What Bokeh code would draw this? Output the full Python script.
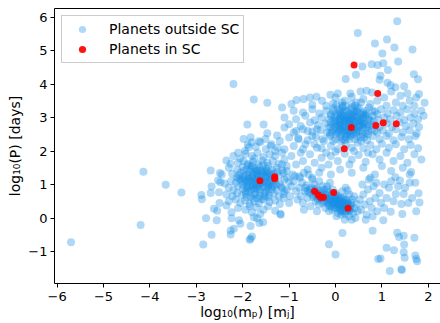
from bokeh.plotting import figure
from bokeh.models import Range1d, FixedTicker, Legend, LegendItem, LinearAxis
from bokeh.embed import file_html
from bokeh.resources import INLINE

# ---------------- data (log10 mass [M_J], log10 period [days]) ----------------
far_left = [(-5.7, -0.72), (-4.2, -0.21), (-4.14, 1.38), (-3.66, 0.99), (-3.32, 0.76),
            (-2.69, 1.42), (-2.49, 1.34), (-2.89, 0.69), (-2.88, 0.56), (-2.69, 0.75),
            (-2.67, 0.94), (-2.48, 1.07), (-2.79, -0.01), (-2.56, -0.07), (-2.85, -0.79),
            (-2.67, -0.5), (-2.62, 0.28), (-2.55, 0.22), (-2.5, 0.45), (-2.51, 0.77),
            (-2.53, 1.12), (-2.39, 1.03)]

left_cluster = [
    (-1.87, 2.11), (-1.81, 2.26), (-1.72, 2.13), (-1.62, 2.26), (-1.5, 2.05), (-1.38, 2.2),
    (-1.25, 2.1), (-1.95, 2.0), (-2.1, 1.95),
    (-2.05, 1.77), (-1.94, 1.92), (-1.8, 1.85), (-1.68, 1.95), (-1.55, 1.82), (-1.42, 1.9),
    (-1.3, 1.85), (-1.15, 1.95), (-2.2, 1.85), (-1.75, 1.78),
    (-2.26, 1.62), (-2.1, 1.65), (-1.98, 1.7), (-1.88, 1.62), (-1.78, 1.68), (-1.66, 1.6),
    (-1.58, 1.72), (-1.47, 1.65), (-1.35, 1.7), (-1.22, 1.62), (-1.1, 1.75), (-2.35, 1.72),
    (-2.12, 1.44), (-2.0, 1.52), (-1.92, 1.45), (-1.83, 1.55), (-1.74, 1.47), (-1.64, 1.52),
    (-1.55, 1.42), (-1.45, 1.55), (-1.37, 1.45), (-1.27, 1.5), (-1.15, 1.42), (-1.05, 1.55),
    (-2.3, 1.5), (-1.7, 1.4), (-1.9, 1.58), (-1.5, 1.48),
    (-2.23, 1.32), (-2.13, 1.22), (-2.05, 1.35), (-1.96, 1.27), (-1.86, 1.38), (-1.8, 1.25),
    (-1.7, 1.33), (-1.6, 1.27), (-1.52, 1.36), (-1.42, 1.25), (-1.33, 1.32), (-1.22, 1.27),
    (-1.12, 1.35), (-2.45, 1.3), (-1.88, 1.2), (-1.65, 1.22), (-1.47, 1.3), (-1.75, 1.38),
    (-2.0, 1.2), (-1.25, 1.38),
    (-2.25, 1.1), (-2.15, 1.05), (-2.05, 1.15), (-1.95, 1.08), (-1.85, 1.12), (-1.75, 1.02),
    (-1.68, 1.15), (-1.58, 1.05), (-1.5, 1.18), (-1.4, 1.07), (-1.3, 1.12), (-1.2, 1.03),
    (-1.1, 1.15), (-1.0, 1.08), (-1.9, 1.0), (-1.62, 1.0), (-1.45, 1.0), (-1.78, 1.18),
    (-2.1, 1.18), (-1.35, 1.02),
    (-2.3, 0.9), (-2.2, 0.83), (-2.1, 0.95), (-2.0, 0.87), (-1.92, 0.93), (-1.82, 0.84),
    (-1.72, 0.92), (-1.63, 0.85), (-1.55, 0.95), (-1.45, 0.86), (-1.37, 0.94), (-1.27, 0.83),
    (-1.15, 0.9), (-1.05, 0.85), (-1.78, 0.98), (-1.5, 0.8), (-1.95, 0.8),
    (-2.35, 0.7), (-2.22, 0.65), (-2.12, 0.75), (-2.02, 0.68), (-1.93, 0.73), (-1.83, 0.64),
    (-1.73, 0.72), (-1.63, 0.66), (-1.53, 0.75), (-1.43, 0.68), (-1.33, 0.74), (-1.22, 0.64),
    (-1.12, 0.72), (-1.88, 0.78), (-1.68, 0.6), (-1.45, 0.62),
    (-2.3, 0.5), (-2.15, 0.55), (-2.05, 0.45), (-1.95, 0.52), (-1.85, 0.42), (-1.75, 0.5),
    (-1.65, 0.44), (-1.55, 0.55), (-1.42, 0.48), (-1.3, 0.52), (-1.2, 0.42), (-1.78, 0.58),
    (-1.6, 0.56),
    (-2.35, 0.37), (-2.24, 0.17), (-1.94, 0.25), (-1.8, 0.17), (-2.1, 0.3), (-1.7, 0.32),
    (-1.55, 0.25), (-1.45, 0.35), (-1.3, 0.22), (-1.19, 0.13), (-1.85, 0.35), (-1.62, 0.12),
    (-2.24, -0.01), (-2.08, -0.07), (-2.05, -0.17), (-1.83, -0.24), (-1.64, -0.15),
    (-1.56, -0.13), (-1.69, -0.01), (-1.76, 0.02), (-2.26, -0.37), (-2.19, -0.32),
    (-1.83, -0.62), (-1.8, -0.55), (-2.26, -0.49), (-1.85, -0.65), (-1.18, 0.1)]

left_core = [(-1.9, 1.3), (-1.8, 1.1), (-1.7, 1.25), (-1.6, 1.15), (-1.5, 1.25), (-1.4, 1.15),
             (-1.85, 0.95), (-1.75, 0.85), (-1.65, 0.95), (-1.55, 1.1), (-1.45, 0.95),
             (-1.35, 1.2), (-1.95, 1.15), (-1.72, 1.08), (-1.58, 1.35), (-1.82, 1.45),
             (-1.68, 1.42), (-1.48, 1.4), (-2.0, 1.0), (-1.62, 0.78), (-1.38, 0.85),
             (-1.92, 0.62), (-1.76, 0.7), (-1.52, 0.65), (-1.28, 1.0), (-1.88, 1.08),
             (-1.66, 1.3), (-1.42, 1.35), (-1.8, 1.55), (-1.56, 1.58), (-2.08, 1.28),
             (-1.98, 1.4), (-1.7, 1.0), (-1.5, 1.05), (-1.33, 0.95), (-1.78, 0.9),
             (-1.85, 1.2), (-1.72, 1.15), (-1.62, 1.05), (-1.52, 1.2), (-1.45, 1.1),
             (-1.78, 1.32), (-1.6, 1.4), (-1.9, 0.88), (-1.68, 0.88), (-1.48, 0.9),
             (-2.02, 1.1), (-1.38, 1.3)]

upper_left = [(-2.2, 4.0), (-1.76, 3.54), (-1.47, 3.44), (-1.9, 2.79), (-1.55, 2.79),
              (-1.98, 2.36), (-1.83, 2.41), (-1.89, 2.19), (-1.65, 2.29), (-1.51, 2.36),
              (-1.47, 2.53), (-1.26, 2.46), (-1.4, 2.16)]

bridge = [(-1.2, 2.3), (-1.1, 2.05), (-1.0, 2.4), (-0.95, 1.85), (-0.9, 2.15), (-0.85, 1.6),
          (-0.8, 2.35), (-0.75, 1.95), (-0.7, 1.7), (-0.65, 2.2), (-0.6, 1.45), (-0.55, 1.9),
          (-0.5, 2.45), (-0.45, 1.65), (-0.4, 2.1), (-0.35, 1.35), (-0.3, 1.8), (-0.25, 2.3),
          (-1.05, 1.4), (-0.92, 1.3), (-0.78, 1.25), (-1.15, 1.6), (-0.68, 1.35), (-0.5, 1.2),
          (-0.3, 1.5), (-0.2, 1.95), (-0.15, 1.6), (-1.3, 2.0), (-0.6, 2.6), (-0.85, 2.6),
          (-1.1, 2.7), (-0.4, 2.65)]

top_sparse = [(1.33, 5.87), (0.48, 5.52), (0.85, 5.21), (1.11, 5.33), (1.27, 5.09),
              (1.66, 5.03), (1.01, 4.91), (1.35, 4.67), (0.58, 4.52), (0.78, 4.59),
              (0.91, 4.57), (1.03, 4.62), (1.13, 4.42), (0.44, 4.28), (0.22, 4.15),
              (0.97, 4.25), (0.95, 4.13), (1.69, 4.29), (1.78, 4.14), (1.12, 4.04),
              (1.19, 3.96), (1.29, 3.9), (1.48, 3.93)]

upper_band = [(-0.84, 3.52), (-0.69, 3.55), (-0.55, 3.6), (-0.41, 3.62), (-0.29, 3.5),
              (-0.11, 3.68), (0.05, 3.72), (0.32, 3.72), (0.54, 3.78), (0.67, 3.8),
              (0.79, 3.75), (1.8, 3.7), (1.92, 3.44), (1.74, 3.6), (1.55, 3.72), (1.4, 3.65),
              (1.2, 3.78), (1.05, 3.6), (0.6, 3.55), (0.45, 3.45), (0.2, 3.5), (-0.05, 3.42),
              (-0.5, 3.38), (-0.95, 3.4), (-1.15, 3.3), (1.6, 3.5), (1.3, 3.45), (0.9, 3.5),
              (0.0, 3.6), (0.15, 3.35), (0.35, 3.62), (-0.2, 3.35), (0.75, 3.4), (1.1, 3.35),
              (1.45, 3.35), (1.7, 3.35)]

upper_cluster = [
    (-0.9, 3.2), (-0.7, 3.15), (-0.5, 3.25), (-0.35, 3.12), (-0.2, 3.2), (-0.05, 3.28),
    (0.1, 3.15), (0.22, 3.22), (0.35, 3.1), (0.48, 3.25), (0.6, 3.15), (0.72, 3.3),
    (0.85, 3.18), (0.98, 3.25), (1.12, 3.12), (1.25, 3.22), (1.4, 3.15), (1.55, 3.25),
    (1.7, 3.12), (1.85, 3.2), (0.15, 3.3), (0.4, 3.18), (0.65, 3.05), (-0.1, 3.1),
    (-1.1, 3.0), (-0.85, 2.95), (-0.65, 3.05), (-0.45, 2.92), (-0.3, 3.0), (-0.15, 2.95),
    (-0.02, 3.05), (0.08, 2.92), (0.18, 3.0), (0.28, 2.95), (0.38, 3.05), (0.5, 2.92),
    (0.6, 3.0), (0.7, 2.95), (0.8, 3.05), (0.92, 2.93), (1.05, 3.0), (1.18, 2.95),
    (1.32, 3.05), (1.48, 2.93), (1.62, 3.0), (1.78, 2.95), (1.9, 3.05), (0.12, 3.08),
    (0.32, 2.9), (0.45, 3.02), (0.02, 2.9), (0.55, 3.08),
    (-1.0, 2.8), (-0.75, 2.75), (-0.55, 2.85), (-0.38, 2.78), (-0.22, 2.82), (-0.1, 2.72),
    (0.0, 2.85), (0.1, 2.78), (0.2, 2.82), (0.3, 2.75), (0.42, 2.85), (0.52, 2.72),
    (0.62, 2.82), (0.72, 2.75), (0.82, 2.88), (0.95, 2.72), (1.1, 2.82), (1.22, 2.72),
    (1.38, 2.85), (1.52, 2.75), (1.68, 2.82), (1.8, 2.72), (0.15, 2.7), (0.38, 2.88),
    (0.25, 2.9), (-0.05, 2.8), (0.58, 2.78), (0.05, 2.75),
    (-0.9, 2.55), (-0.7, 2.65), (-0.5, 2.58), (-0.32, 2.62), (-0.18, 2.55), (-0.05, 2.65),
    (0.05, 2.55), (0.15, 2.62), (0.25, 2.52), (0.35, 2.65), (0.45, 2.55), (0.55, 2.62),
    (0.65, 2.52), (0.78, 2.65), (0.9, 2.55), (1.02, 2.62), (1.15, 2.52), (1.3, 2.65),
    (1.45, 2.55), (1.6, 2.62), (1.75, 2.52), (0.1, 2.68), (0.3, 2.58), (0.0, 2.6),
    (0.4, 2.5), (-0.12, 2.5),
    (-0.8, 2.38), (-0.6, 2.32), (-0.42, 2.42), (-0.28, 2.35), (-0.12, 2.45), (0.0, 2.35),
    (0.1, 2.42), (0.2, 2.32), (0.32, 2.45), (0.42, 2.35), (0.55, 2.42), (0.68, 2.32),
    (0.8, 2.45), (0.95, 2.35), (1.1, 2.45), (1.25, 2.32), (1.42, 2.42), (1.58, 2.35),
    (1.72, 2.45), (0.25, 2.4), (-0.05, 2.3),
    (-0.7, 2.05), (-0.45, 2.2), (-0.3, 2.08), (-0.1, 2.15), (0.05, 2.05), (0.22, 2.2),
    (0.35, 2.1), (0.48, 2.25), (0.6, 2.08), (0.75, 2.18), (0.88, 2.05), (1.0, 2.22),
    (1.15, 2.1), (1.3, 2.2), (1.48, 2.05), (1.62, 2.18), (1.78, 2.08), (0.12, 2.28),
    (0.4, 2.0),
    (-0.1, 1.85), (0.05, 1.7), (0.2, 1.92), (0.35, 1.75), (0.5, 1.88), (0.65, 1.68),
    (0.8, 1.9), (0.95, 1.75), (1.1, 1.95), (1.25, 1.7), (1.4, 1.85), (1.55, 1.65),
    (1.7, 1.9), (1.85, 1.75), (0.0, 1.98), (0.3, 1.6), (0.7, 1.95),
    (0.1, 1.45), (0.35, 1.35), (0.6, 1.5), (0.85, 1.3), (1.0, 1.55), (1.2, 1.4),
    (1.45, 1.5), (1.6, 1.3), (1.29, 1.22), (1.39, 1.12), (1.63, 1.37), (-0.1, 1.3),
    (0.75, 1.2)]

upper_core = [(0.0, 3.0), (0.1, 3.2), (0.2, 2.9), (0.3, 3.1), (0.4, 2.8), (0.5, 3.0),
              (0.6, 2.7), (0.2, 2.6), (0.3, 2.5), (0.1, 2.85), (0.35, 2.95), (0.45, 2.65),
              (0.25, 3.05), (0.15, 2.75), (0.05, 3.1), (-0.05, 2.9), (0.55, 2.85), (0.65, 3.1),
              (0.7, 2.6), (0.28, 2.7), (0.38, 2.55), (0.18, 3.15), (0.48, 3.15), (0.08, 2.62),
              (-0.1, 3.05), (0.33, 3.25), (0.22, 2.45), (0.12, 2.5), (0.58, 2.5), (0.42, 3.35),
              (0.02, 3.38), (-0.15, 2.7), (0.75, 2.9), (0.85, 2.6), (0.3, 2.85), (0.24, 2.98),
              (0.4, 2.72), (0.16, 2.95), (0.52, 2.78), (0.36, 3.02),
              (0.05, 3.25), (0.2, 3.35), (0.35, 3.4), (0.5, 3.3), (0.65, 3.2), (0.12, 2.95),
              (0.28, 2.8), (0.44, 2.9), (0.6, 2.85), (0.72, 3.0), (0.0, 2.7), (0.18, 2.55),
              (0.34, 2.6), (0.5, 2.6), (0.62, 2.4), (-0.08, 2.55), (0.26, 3.18), (0.42, 3.1),
              (0.56, 2.95), (0.8, 2.78), (0.9, 3.1), (0.1, 3.0), (0.36, 2.78), (0.2, 2.7),
              (-0.1, 2.85), (0.46, 2.45), (0.3, 2.35), (0.68, 2.7), (0.14, 3.45), (0.55, 3.45),
              (0.08, 2.78), (0.22, 2.88), (0.38, 2.68), (0.52, 2.9), (0.66, 2.8), (0.15, 3.05),
              (0.3, 3.0), (0.45, 3.2), (0.6, 3.1), (0.02, 2.5), (0.25, 2.62), (0.48, 2.7),
              (0.7, 2.5), (-0.05, 3.2), (0.35, 3.3), (0.8, 3.2), (0.55, 2.3), (0.15, 2.35)]

ridge = [
    (-1.18, 0.95), (-1.1, 0.8), (-1.05, 1.2), (-0.98, 0.65), (-0.95, 0.95), (-0.9, 1.1),
    (-0.85, 0.8), (-0.82, 0.55), (-1.0, 0.45), (-0.88, 1.25), (-1.12, 0.6),
    (-0.78, 0.9), (-0.75, 0.65), (-0.72, 1.05), (-0.7, 0.45), (-0.66, 0.8), (-0.62, 0.98),
    (-0.6, 0.6), (-0.57, 0.75), (-0.54, 0.35), (-0.52, 0.9), (-0.5, 1.15), (-0.68, 0.25),
    (-0.58, 1.3), (-0.76, 1.2),
    (-0.48, 0.62), (-0.46, 0.78), (-0.43, 0.5), (-0.41, 0.88), (-0.38, 0.7), (-0.36, 0.4),
    (-0.33, 0.82), (-0.31, 0.58), (-0.28, 0.95), (-0.26, 0.5), (-0.24, 0.72), (-0.22, 0.3),
    (-0.45, 1.0), (-0.35, 1.1), (-0.4, 0.2), (-0.3, 0.65), (-0.25, 0.85),
    (-0.19, 0.6), (-0.17, 0.45), (-0.15, 0.78), (-0.13, 0.35), (-0.11, 0.55), (-0.09, 0.68),
    (-0.07, 0.25), (-0.05, 0.5), (-0.03, 0.4), (-0.01, 0.62), (0.01, 0.3), (0.03, 0.52),
    (0.05, 0.15), (0.07, 0.42), (0.09, 0.58), (-0.18, 0.95), (-0.12, 1.05), (-0.06, 0.85),
    (0.0, 0.75), (0.08, 0.28), (-0.14, 0.2), (0.02, 0.05),
    (0.11, 0.35), (0.13, 0.48), (0.15, 0.22), (0.17, 0.62), (0.19, 0.4), (0.21, 0.12),
    (0.23, 0.55), (0.25, 0.3), (0.27, 0.45), (0.29, 0.05), (0.31, 0.2), (0.33, 0.38),
    (0.36, 0.55), (0.38, 0.15), (0.41, 0.3), (0.43, 0.0), (0.46, 0.42), (0.48, 0.2),
    (0.15, 0.8), (0.22, 0.9), (0.3, 0.7), (0.4, 0.65), (0.2, -0.05), (0.12, 0.1),
    (0.35, -0.05), (0.26, 0.82),
    (0.52, 0.55), (0.55, 0.25), (0.6, 0.7), (0.63, 0.4), (0.67, 0.1), (0.7, 0.85),
    (0.74, 0.5), (0.78, 0.3), (0.82, 0.95), (0.86, 0.6), (0.9, 0.2), (0.95, 0.75),
    (0.98, 0.45), (0.58, 1.0), (0.72, 1.15), (0.88, 1.05), (0.65, -0.05), (0.8, 0.05),
    (-0.05, 0.45), (0.0, 0.55), (0.05, 0.35), (0.1, 0.5), (0.15, 0.4), (0.2, 0.3),
    (0.25, 0.5), (-0.1, 0.6), (-0.2, 0.5), (0.1, 0.25), (0.18, 0.18), (0.3, 0.35),
    (-0.15, 0.4), (0.05, 0.65), (0.22, 0.42), (-0.02, 0.3), (0.12, 0.6), (0.28, 0.25),
    (0.34, 0.45), (-0.08, 0.7)]

ridge_core = [(-0.45, 0.85), (-0.4, 0.75), (-0.35, 0.6), (-0.3, 0.75), (-0.25, 0.6),
              (-0.2, 0.7), (-0.15, 0.55), (-0.1, 0.45), (-0.05, 0.6), (0.0, 0.4), (0.05, 0.5),
              (0.1, 0.4), (0.15, 0.3), (0.2, 0.45), (0.25, 0.35), (0.3, 0.25), (-0.38, 0.55),
              (-0.28, 0.45), (-0.18, 0.85), (-0.08, 0.35), (0.02, 0.68), (0.12, 0.2),
              (0.22, 0.2), (0.32, 0.3), (-0.5, 0.7), (-0.55, 0.85), (-0.6, 0.8), (-0.65, 0.9),
              (0.08, 0.48), (0.18, 0.55),
              (-0.32, 0.7), (-0.22, 0.62), (-0.12, 0.52), (-0.02, 0.48), (0.08, 0.38),
              (0.18, 0.35), (0.26, 0.4), (-0.42, 0.65), (0.03, 0.58), (0.14, 0.45)]

right_sparse = [(1.03, -0.07), (1.19, 0.19), (1.42, 0.42), (1.57, 0.45), (1.44, 0.12),
                (1.74, 0.2), (1.81, 0.46), (1.79, 0.74), (1.3, 0.72), (1.47, 0.72),
                (1.6, 1.05), (1.72, 1.05), (1.05, 0.3), (1.1, 0.6), (1.15, 0.9), (1.25, 0.5),
                (1.35, 0.95), (1.5, 0.9), (1.65, 0.6), (1.2, 1.1), (1.05, 1.0)]

lower_sparse = [(-0.14, -0.78), (0.0, -1.09), (0.15, -0.45), (0.8, -0.38), (1.1, -0.89),
                (1.26, -0.96), (0.92, -1.22), (0.97, -1.21), (1.17, -1.58), (1.43, -1.55),
                (1.42, -1.53), (1.33, -0.44), (1.37, -0.57), (1.47, -0.53), (1.48, -0.79),
                (1.47, -1.02), (1.49, -1.19), (1.7, -0.59), (1.72, -1.12), (1.74, -1.22),
                (1.76, -1.29)]

in_sc = [(0.40, 4.57), (0.91, 3.72), (0.34, 2.70), (0.87, 2.76), (1.03, 2.84), (1.31, 2.81),
         (0.19, 2.07), (-1.63, 1.11), (-1.31, 1.23), (-1.31, 1.17), (-0.45, 0.80),
         (-0.37, 0.69), (-0.32, 0.61), (-0.26, 0.62), (-0.04, 0.76), (0.27, 0.29)]

x_ticks = [-6, -5, -4, -3, -2, -1, 0, 1, 2]
y_ticks = [-1, 0, 1, 2, 3, 4, 5, 6]

outside = (far_left + left_cluster + left_core + upper_left + bridge + top_sparse +
           upper_band + upper_cluster + upper_core + ridge + ridge_core + right_sparse +
           lower_sparse)
out_x = [pt[0] for pt in outside]
out_y = [pt[1] for pt in outside]
in_x = [pt[0] for pt in in_sc]
in_y = [pt[1] for pt in in_sc]

# ---------------- figure ----------------
FONT = "DejaVu Sans"
p = figure(width=440, height=323, output_backend="svg", toolbar_location=None,
           x_range=Range1d(-6.056, 2.263), y_range=Range1d(-1.955, 6.254),
           min_border_left=54, min_border_right=0, min_border_top=8, min_border_bottom=40)
p.xgrid.visible = False
p.ygrid.visible = False
p.outline_line_color = None
p.background_fill_color = "white"
p.border_fill_color = "white"

r_out = p.scatter(out_x, out_y, size=8, fill_color="#1890e6", fill_alpha=0.35, line_color=None)
r_in = p.scatter(in_x, in_y, size=7, fill_color="#ff0000", fill_alpha=0.92, line_color=None)


def minus(v):
    return str(v).replace("-", "\u2212")


for ax, ticks in ((p.xaxis[0], x_ticks), (p.yaxis[0], y_ticks)):
    ax.ticker = FixedTicker(ticks=ticks)
    ax.major_label_overrides = {t: minus(t) for t in ticks}
    ax.major_tick_out = 4
    ax.major_tick_in = 0
    ax.minor_tick_out = 0
    ax.minor_tick_in = 0
    ax.axis_line_color = "black"
    ax.major_tick_line_color = "black"
    ax.major_label_text_font = FONT
    ax.major_label_text_font_size = "13px"
    ax.major_label_text_color = "black"
    ax.axis_label_text_font = FONT
    ax.axis_label_text_font_size = "14px"
    ax.axis_label_text_font_style = "normal"
    ax.axis_label_text_color = "black"

p.xaxis[0].axis_label = "log\u2081\u2080(m\u209a) [m\u2c7c]"
p.yaxis[0].axis_label = "log\u2081\u2080(P) [days]"
p.xaxis[0].major_label_standoff = 4
p.yaxis[0].major_label_standoff = 3
p.xaxis[0].axis_label_standoff = 0
p.yaxis[0].axis_label_standoff = 2

# top spine
top = LinearAxis(ticker=FixedTicker(ticks=[]), major_tick_out=0, major_tick_in=0,
                 minor_tick_out=0, minor_tick_in=0, major_label_standoff=0,
                 axis_label_standoff=0, axis_line_color="black")
p.add_layout(top, "above")

legend = Legend(items=[LegendItem(label="Planets outside SC", renderers=[r_out]),
                       LegendItem(label="Planets in SC", renderers=[r_in])],
                location="top_left", margin=7, padding=4, spacing=2,
                glyph_width=32, glyph_height=18, label_height=18, label_standoff=11,
                label_text_font=FONT, label_text_font_size="14px", label_text_color="black",
                border_line_color="#cccccc", border_line_alpha=1.0,
                background_fill_color="white", background_fill_alpha=0.8)
p.add_layout(legend)

open("out.html", "w").write(file_html(p, INLINE))
